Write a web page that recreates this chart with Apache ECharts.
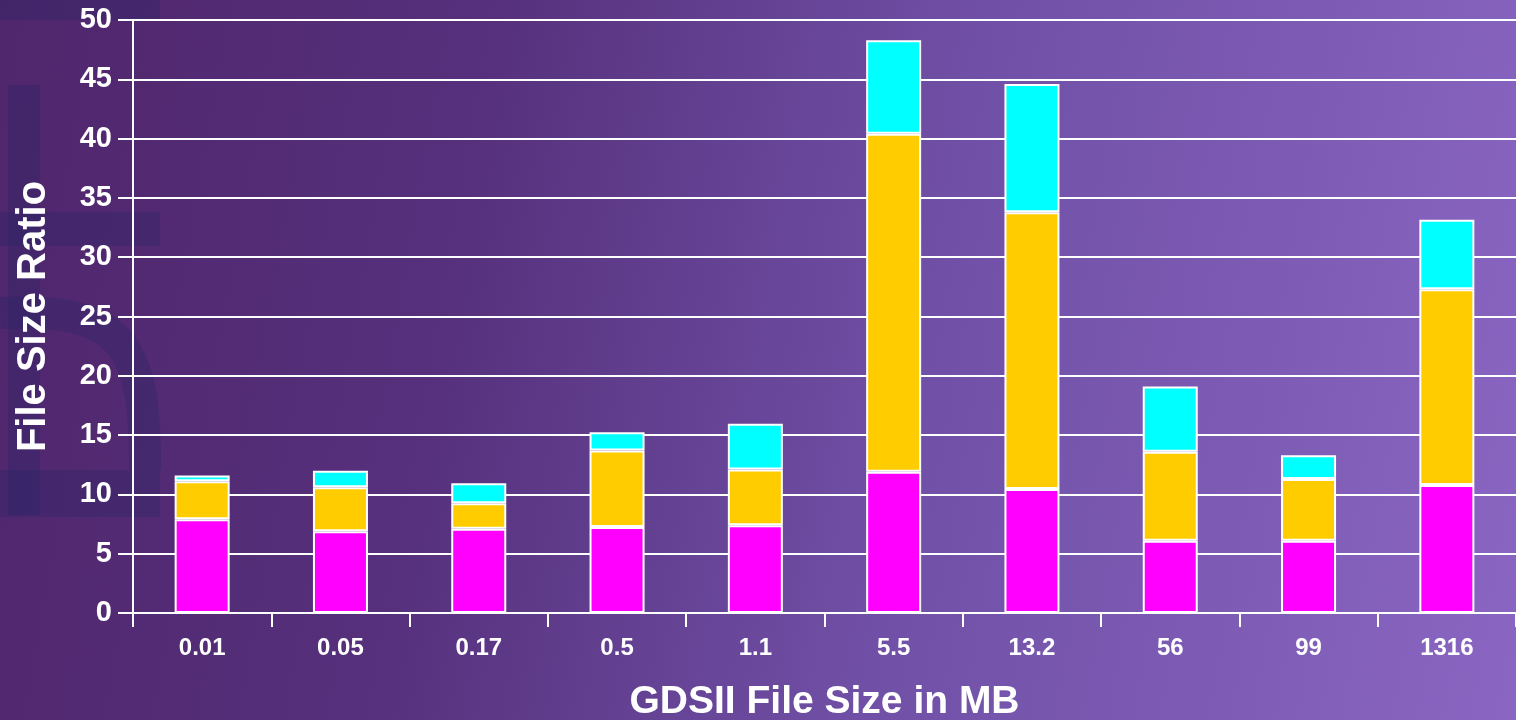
<!DOCTYPE html>
<html>
<head>
<meta charset="utf-8">
<script src="https://cdn.jsdelivr.net/npm/echarts@6/dist/echarts.min.js"></script>
<style>
html,body{margin:0;padding:0;width:1516px;height:720px;overflow:hidden;
background:linear-gradient(100deg,#50266c 0%,#56307c 30%,#7050a6 60%,#8a66c2 100%);}
#c{width:1516px;height:720px;}
</style>
</head>
<body>
<div id="c"></div>
<script>
const categories = ['0.01','0.05','0.17','0.5','1.1','5.5','13.2','56','99','1316'];
const magentaVals = [7.9, 6.9, 7.1, 7.25, 7.4, 11.9, 10.45, 6.1, 6.1, 10.8];
const yellowVals  = [3.2, 3.7, 2.15, 6.45, 4.7, 28.5, 23.35, 7.5, 5.2, 16.5];
const cyanVals    = [0.5, 1.4, 1.7, 1.55, 3.85, 7.9, 10.8, 5.5, 2.0, 5.85];
const yTicks = [0,5,10,15,20,25,30,35,40,45,50];

const chart = echarts.init(document.getElementById('c'), null, {renderer:'canvas'});
const font = 'Liberation Sans, Arial, sans-serif';
const barStyle = c => ({color:c, borderColor:'#ffffff', borderWidth:2});
const wm = 'rgba(36,36,100,0.3)';
chart.setOption({
  backgroundColor:'transparent',
  animation:false,
  graphic:[
    {type:'rect', z:-10, shape:{x:0,y:0,width:160,height:20}, style:{fill:wm}},
    {type:'rect', z:-10, shape:{x:8,y:85,width:32,height:430}, style:{fill:wm}},
    {type:'rect', z:-10, shape:{x:0,y:212,width:160,height:34}, style:{fill:wm}},
    {type:'rect', z:-10, shape:{x:0,y:470,width:160,height:47}, style:{fill:wm}},
    {type:'bezierCurve', z:-10, shape:{x1:0,y1:313,cpx1:120,cpy1:308,cpx2:146,cpy2:340,x2:145,y2:470},
      style:{stroke:wm, lineWidth:32, fill:null}}
  ],
  grid:{left:133, right:0, top:20, bottom:107, containLabel:false, outerBoundsMode:'none'},
  xAxis:{
    type:'category', data:categories,
    name:'GDSII File Size in MB', nameLocation:'middle', nameGap:70,
    nameTextStyle:{color:'#ffffff', fontSize:39, fontWeight:'bold', fontFamily:font},
    axisLine:{lineStyle:{color:'#ffffff', width:2}},
    axisTick:{show:true, length:14, lineStyle:{color:'#ffffff', width:2}},
    axisLabel:{color:'#ffffff', fontSize:24, fontWeight:'bold', fontFamily:font, margin:23},
    splitLine:{show:false}
  },
  yAxis:{
    type:'value', min:0, max:50, interval:5,
    name:'File Size Ratio', nameLocation:'middle', nameGap:79, nameRotate:90,
    nameTextStyle:{color:'#ffffff', fontSize:40, fontWeight:'bold', fontFamily:font},
    axisLine:{show:true, lineStyle:{color:'#ffffff', width:2}},
    axisTick:{show:true, length:15, lineStyle:{color:'#ffffff', width:2}},
    axisLabel:{color:'#ffffff', fontSize:29, fontWeight:'bold', fontFamily:font, margin:21,
      formatter: v => yTicks.includes(v) ? String(v) : ''},
    splitLine:{show:true, lineStyle:{color:'#ffffff', width:2}}
  },
  series:[
    {type:'bar', stack:'s', data:magentaVals, barWidth:55, itemStyle:barStyle('#ff00ff')},
    {type:'bar', stack:'s', data:yellowVals, barWidth:55, itemStyle:barStyle('#ffcc00')},
    {type:'bar', stack:'s', data:cyanVals, barWidth:55, itemStyle:barStyle('#00ffff')}
  ]
});
</script>
</body>
</html>
